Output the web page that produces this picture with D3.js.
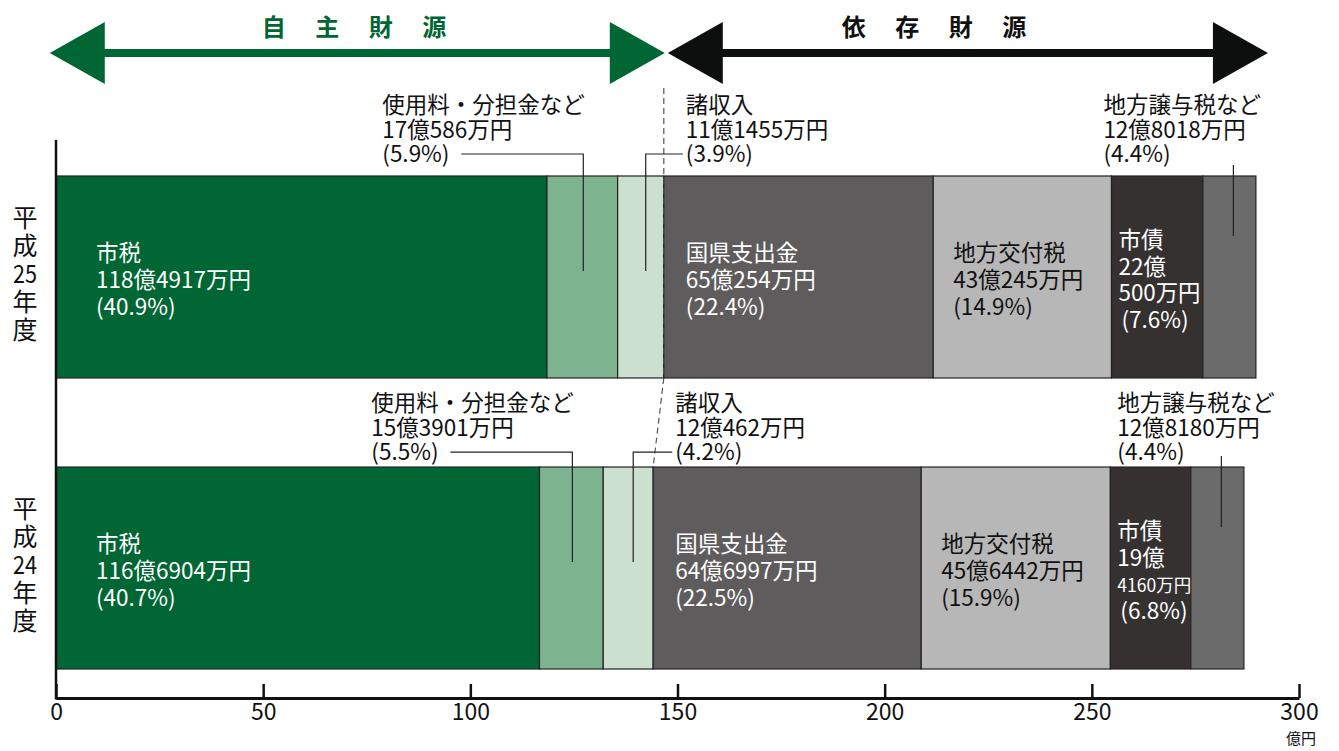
<!DOCTYPE html>
<html>
<head>
<meta charset="utf-8">
<script src="https://cdn.jsdelivr.net/npm/d3@7"></script>
<style>
  body { margin: 0; background: #fff; }
  text { font-family: "Noto Sans CJK JP", "Noto Sans", sans-serif; }
</style>
</head>
<body>
<div id="chart"></div>
<script>
// 歳入の内訳（億円）
var years = ["平成25年度", "平成24年度"];
var categories = ["市税", "使用料・分担金など", "諸収入", "国県支出金", "地方交付税", "市債", "地方譲与税など"];
var values25 = [118.4917, 17.0586, 11.1455, 65.0254, 43.0245, 22.0500, 12.8018];
var values24 = [116.6904, 15.3901, 12.0462, 64.6997, 45.6442, 19.4160, 12.8180];
var percents25 = ["40.9", "5.9", "3.9", "22.4", "14.9", "7.6", "4.4"];
var percents24 = ["40.7", "5.5", "4.2", "22.5", "15.9", "6.8", "4.4"];
var xTicks = [0, 50, 100, 150, 200, 250, 300];
var groups = ["自 主 財 源", "依 存 財 源"];

var colors = ["#006633", "#7db38e", "#cce0d0", "#5e5c5d", "#b7b7b7", "#353131", "#6b6b6b"];
var textColors = ["#fff", null, null, "#fff", "#111", "#fff", null];

var width = 1339, height = 751;
var fs = 22.5;

var svg = d3.select("#chart").append("svg")
    .attr("width", width)
    .attr("height", height);

var x = d3.scaleLinear().domain([0, 300]).range([56, 1299]);
var y = d3.scaleBand().domain(years).range([176, 669]).paddingInner(0.306).paddingOuter(0);

function fmt(v) {
    var man = Math.round(v * 10000);
    return Math.floor(man / 10000) + "億" + (man % 10000) + "万円";
}

var rows = years.map(function (yr, i) {
    var vals = i == 0 ? values25 : values24;
    var pcts = i == 0 ? percents25 : percents24;
    var acc = 0;
    return {
        year: yr,
        segs: vals.map(function (v, j) {
            var s = { k: j, name: categories[j], v: v, x0: acc, x1: acc + v, pct: pcts[j] };
            acc += v;
            return s;
        })
    };
});

// arrows
function arrow(g, a, b, cy, color) {
    var head = 55, half = 31, shaft = 4;
    g.append("path")
        .attr("d", "M" + a + "," + cy + "L" + (a + head) + "," + (cy - half) + "V" + (cy - shaft) +
            "H" + (b - head) + "V" + (cy - half) + "L" + b + "," + cy + "L" + (b - head) + "," + (cy + half) +
            "V" + (cy + shaft) + "H" + (a + head) + "V" + (cy + half) + "Z")
        .attr("fill", color);
}
var split = rows[0].segs[2].x1;
arrow(svg, x(-1.5), x(split) + 1, 53, "#006633");
arrow(svg, x(split) + 4, x(292.5), 53, "#0d0f0e");

svg.append("text").attr("x", 360).attr("y", 36).attr("text-anchor", "middle")
    .attr("font-size", 24).attr("font-weight", "bold").attr("fill", "#006633")
    .attr("letter-spacing", 12).text(groups[0]);
svg.append("text").attr("x", 940).attr("y", 36).attr("text-anchor", "middle")
    .attr("font-size", 24).attr("font-weight", "bold").attr("fill", "#111")
    .attr("letter-spacing", 12).text(groups[1]);

// bars
var row = svg.selectAll(".row").data(rows).enter().append("g").attr("class", "row");

row.selectAll("rect").data(function (d) { return d.segs; }).enter().append("rect")
    .attr("x", function (d) { return x(d.x0); })
    .attr("width", function (d) { return x(d.x1) - x(d.x0); })
    .attr("y", function (d, i, n) { return y(d3.select(n[i].parentNode).datum().year); })
    .attr("height", y.bandwidth())
    .attr("fill", function (d) { return colors[d.k]; })
    .attr("stroke", "#222")
    .attr("stroke-width", 1.2);

// dashed boundary between 自主 / 依存
var b25 = rows[0].segs[2].x1, b24 = rows[1].segs[2].x1;
svg.append("path")
    .attr("d", "M" + x(b25) + ",88V" + (y(years[0]) + y.bandwidth()) + "L" + x(b24) + "," + y(years[1]))
    .attr("fill", "none").attr("stroke", "#555").attr("stroke-width", 1.2)
    .attr("stroke-dasharray", "6,4");

// inside labels
var inset = [40, 0, 0, 22, 20, 7, 0];
rows.forEach(function (r, ri) {
    var top = y(r.year), mid = top + y.bandwidth() / 2 + 3;
    r.segs.forEach(function (s) {
        if (!textColors[s.k]) return;
        var amount = fmt(s.v);
        var lines = [s.name];
        if (s.k == 5) {
            var p = amount.split("億");
            lines.push(p[0] + "億", p[1]);
        } else lines.push(amount);
        lines.push("(" + s.pct + "%)");
        var lh = s.k == 5 ? 26.5 : 27;
        var t = svg.append("text").attr("fill", textColors[s.k]).attr("font-size", fs);
        lines.forEach(function (l, li) {
            var ts = t.append("tspan")
                .attr("x", x(s.x0) + inset[s.k] + (s.k == 5 && li == 3 ? 3 : 0))
                .attr("y", mid + (li - (lines.length - 1) / 2) * lh + 8)
                .text(l);
            if (s.k == 5 && li == 2 && ri == 1) ts.attr("font-size", 18).attr("textLength", 74).attr("lengthAdjust", "spacingAndGlyphs");
            if (s.k == 5 && li == 2 && ri == 0) ts.attr("textLength", 82).attr("lengthAdjust", "spacingAndGlyphs");
        });
    });
});

// outside labels with leader lines
var gapAbove = [22, 15];
rows.forEach(function (r, ri) {
    var top = y(r.year);
    var l3 = top - gapAbove[ri];
    [1, 2, 6].forEach(function (k) {
        var s = r.segs[k];
        var m = (x(s.x0) + x(s.x1)) / 2;
        var tx = k == 1 ? m - 200 : k == 2 ? x(s.x1) + 22 : m - (ri == 0 ? 126 : 100);
        var lines = [s.name, fmt(s.v), "(" + s.pct + "%)"];
        var t = svg.append("text").attr("fill", "#111").attr("font-size", fs);
        lines.forEach(function (l, li) {
            t.append("tspan").attr("x", tx).attr("y", l3 + (li - 2) * 24.5 + 8).text(l);
        });
        var leader;
        if (k == 1) {
            leader = "M" + (tx + 79) + "," + l3 + "H" + (m + 1) + "V" + (top + 95);
        } else if (k == 2) {
            leader = "M" + (tx - 3) + "," + l3 + "H" + (m + 5) + "V" + (top + 95);
        } else {
            leader = "M" + (m + 4) + "," + (top - 11) + "V" + (top + 60);
        }
        svg.append("path").attr("d", leader).attr("fill", "none")
            .attr("stroke", "#222").attr("stroke-width", 1.2);
    });
});

// year labels (vertical)
rows.forEach(function (r) {
    var c = y(r.year) + y.bandwidth() / 2 - 4;
    var chars = [r.year.slice(0, 1), r.year.slice(1, 2), r.year.slice(2, 4), r.year.slice(4, 5), r.year.slice(5, 6)];
    chars.forEach(function (ch, i) {
        var t = svg.append("text").attr("x", 25).attr("y", c + (i - 2) * 28 + 10)
            .attr("text-anchor", "middle").attr("font-size", 25).attr("fill", "#111").text(ch);
        if (ch.length == 2) t.attr("textLength", 24).attr("lengthAdjust", "spacingAndGlyphs");
    });
});

// axes
var axisY = 698;
var ax = svg.append("g").attr("transform", "translate(0," + axisY + ")")
    .call(d3.axisBottom(x).tickValues(xTicks).tickSizeInner(-14).tickSizeOuter(0).tickPadding(6));
ax.select(".domain").attr("stroke", "#111").attr("stroke-width", 3);
ax.selectAll(".tick line").attr("stroke", "#111").attr("stroke-width", 2.5);
ax.selectAll(".tick text").attr("font-size", 23).attr("fill", "#111")
    .attr("font-family", "'Noto Sans CJK JP', sans-serif");

svg.append("line").attr("x1", x(0)).attr("x2", x(0)).attr("y1", 140).attr("y2", axisY + 1.5)
    .attr("stroke", "#111").attr("stroke-width", 2.5);

svg.append("text").attr("x", x(300) + 2).attr("y", 744).attr("text-anchor", "middle")
    .attr("font-size", 15).attr("fill", "#111").text("億円");
</script>
</body>
</html>
